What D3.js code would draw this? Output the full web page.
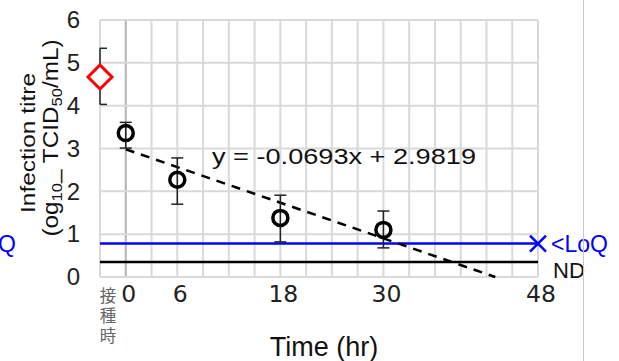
<!DOCTYPE html>
<html>
<head>
<meta charset="utf-8">
<script src="https://cdn.jsdelivr.net/npm/d3@7"></script>
<style>
  body { margin: 0; background: #fff; }
  svg text { font-family: "Liberation Sans", Arial, sans-serif; }
</style>
</head>
<body>
<svg id="chart" width="619" height="361"></svg>
<script>
// x ticks: "接種時" is placed one grid step before 0
var tickTimes = [-3, 0, 6, 18, 30, 48]
var tickLabels = ['接種時', '0', '6', '18', '30', '48']
var yTicks = [0, 1, 2, 3, 4, 5, 6]

// inoculum (red diamond)
var inocTime = [-3]
var inocMean = [4.67]
var inocUpper = [5.34]
var inocLower = [4.03]

// measured titres (open circles)
var sampleTimes = [0, 6, 18, 30]
var titreMean = [3.36, 2.27, 1.38, 1.10]
var titreUpper = [3.61, 2.78, 1.91, 1.54]
var titreLower = [3.01, 1.70, 0.82, 0.68]

// reference lines
var loqValue = 0.78
var ndValue = 0.35

// linear trend
var trendSlope = -0.0693
var trendIntercept = 2.9819

var svg = d3.select('#chart')
var plotLeft = 100, plotRight = 538, plotTop = 20, plotBottom = 277

var x = d3.scaleLinear().domain([-3, 48]).range([plotLeft, plotRight])
var y = d3.scaleLinear().domain([0, 6]).range([plotBottom, plotTop])

// grid
var gridX = d3.range(-3, 49, 3)
svg.append('g')
  .selectAll('line')
  .data(gridX)
  .enter().append('line')
  .attr('x1', function(d) { return x(d) })
  .attr('x2', function(d) { return x(d) })
  .attr('y1', plotTop).attr('y2', plotBottom)
  .attr('stroke', function(d) { return d === 0 ? '#b3b3b3' : '#d9d9d9' })
  .attr('stroke-width', 2)

svg.append('g')
  .selectAll('line')
  .data(yTicks)
  .enter().append('line')
  .attr('x1', plotLeft).attr('x2', plotRight)
  .attr('y1', function(d) { return y(d) })
  .attr('y2', function(d) { return y(d) })
  .attr('stroke', '#d9d9d9')
  .attr('stroke-width', 2)

// y tick labels
svg.append('g')
  .attr('transform', 'translate(' + (plotLeft - 20) + ',0)')
  .call(d3.axisLeft(y).tickValues(yTicks).tickSize(0).tickPadding(0).tickFormat(d3.format('d')))
  .call(function(g) { g.select('.domain').remove() })
  .selectAll('text')
  .attr('font-size', 24)
  .attr('fill', '#222')
  .attr('font-family', '"Liberation Sans", Arial, sans-serif')

// x tick labels
var xl = svg.append('g')
xl.selectAll('text.tick')
  .data(tickTimes.slice(1))
  .enter().append('text')
  .attr('x', function(d) { return x(d) + 3 })
  .attr('y', 302)
  .attr('text-anchor', 'middle')
  .attr('font-size', 23.5)
  .attr('fill', '#222')
  .style('font-family', '"DejaVu Sans", sans-serif')
  .text(function(d, i) { return tickLabels[i + 1] })

// first label stacked vertically, one character per row
var cjk = xl.append('text')
  .attr('y', 302)
  .attr('text-anchor', 'middle')
  .attr('font-size', 16.5)
  .attr('fill', '#666')
  .style('font-family', '"Noto Sans CJK JP", sans-serif')
cjk.selectAll('tspan')
  .data(tickLabels[0].split(''))
  .enter().append('tspan')
  .attr('x', x(tickTimes[0]) + 8)
  .attr('dy', function(d, i) { return i === 0 ? 0 : 20 })
  .text(function(d) { return d })

// reference lines
svg.append('line')
  .attr('x1', plotLeft).attr('x2', plotRight)
  .attr('y1', y(ndValue)).attr('y2', y(ndValue))
  .attr('stroke', '#000').attr('stroke-width', 2.5)

svg.append('line')
  .attr('x1', plotLeft).attr('x2', plotRight)
  .attr('y1', y(loqValue)).attr('y2', y(loqValue))
  .attr('stroke', '#0000ff').attr('stroke-width', 2.5)

var xm = 8
svg.append('path')
  .attr('d', 'M' + (plotRight - xm) + ',' + (y(loqValue) - xm) + 'L' + (plotRight + xm) + ',' + (y(loqValue) + xm) +
    'M' + (plotRight - xm) + ',' + (y(loqValue) + xm) + 'L' + (plotRight + xm) + ',' + (y(loqValue) - xm))
  .attr('stroke', '#0000ff').attr('stroke-width', 2.5).attr('fill', 'none')

svg.append('text')
  .attr('x', 551).attr('y', y(loqValue) + 8)
  .attr('font-size', 23).attr('fill', '#0000ff')
  .text('<LoQ')

// same label, cut off by the left edge as in the source image
svg.append('text')
  .attr('x', 16).attr('y', y(loqValue) + 8)
  .attr('text-anchor', 'end')
  .attr('font-size', 23).attr('fill', '#0000ff')
  .text('<LoQ')

svg.append('text')
  .attr('x', 553).attr('y', y(ndValue) + 16)
  .attr('font-size', 22).attr('fill', '#111')
  .text('ND')

// trend line
var trendEnd = -trendIntercept / trendSlope
svg.append('line')
  .attr('x1', x(0)).attr('y1', y(trendIntercept))
  .attr('x2', x(trendEnd)).attr('y2', y(trendIntercept + trendSlope * trendEnd))
  .attr('stroke', '#000').attr('stroke-width', 2.5)
  .attr('stroke-dasharray', '9,7')

// error bars
function errorBars(times, hi, lo, capLeft, capRight) {
  var g = svg.append('g').attr('stroke', '#222').attr('stroke-width', 1.5)
  times.forEach(function(t, i) {
    g.append('line').attr('x1', x(t)).attr('x2', x(t)).attr('y1', y(hi[i])).attr('y2', y(lo[i]))
    g.append('line').attr('x1', x(t) - capLeft).attr('x2', x(t) + capRight).attr('y1', y(hi[i])).attr('y2', y(hi[i]))
    g.append('line').attr('x1', x(t) - capLeft).attr('x2', x(t) + capRight).attr('y1', y(lo[i])).attr('y2', y(lo[i]))
  })
}
errorBars(inocTime, inocUpper, inocLower, 0, 7)
errorBars(sampleTimes, titreUpper, titreLower, 6, 6)

// diamond
svg.append('g')
  .selectAll('path')
  .data(inocTime)
  .enter().append('path')
  .attr('transform', function(d, i) { return 'translate(' + x(d) + ',' + y(inocMean[i]) + ')' })
  .attr('d', 'M0,-12L12,0L0,12L-12,0Z')
  .attr('fill', '#fff')
  .attr('stroke', '#ff0000')
  .attr('stroke-width', 3)

// circles
svg.append('g')
  .selectAll('circle')
  .data(sampleTimes)
  .enter().append('circle')
  .attr('cx', function(d) { return x(d) })
  .attr('cy', function(d, i) { return y(titreMean[i]) })
  .attr('r', 7.5)
  .attr('fill', 'none')
  .attr('stroke', '#000')
  .attr('stroke-width', 3.5)

// equation
svg.append('text')
  .attr('x', 212).attr('y', 164)
  .attr('font-size', 22)
  .attr('textLength', 264)
  .attr('lengthAdjust', 'spacingAndGlyphs')
  .attr('fill', '#111')
  .text('y = ' + trendSlope + 'x + ' + trendIntercept)

// axis titles
svg.append('text')
  .attr('x', 324).attr('y', 356)
  .attr('text-anchor', 'middle')
  .attr('font-size', 27)
  .attr('fill', '#111')
  .text('Time (hr)')

var yt = svg.append('g').attr('fill', '#111')
yt.append('text')
  .attr('transform', 'translate(35,143) rotate(-90)')
  .attr('text-anchor', 'middle')
  .attr('font-size', 21)
  .attr('textLength', 140)
  .attr('lengthAdjust', 'spacingAndGlyphs')
  .text('Infection titre')

var t2 = yt.append('text')
  .attr('transform', 'translate(58,138) rotate(-90)')
  .attr('text-anchor', 'middle')
  .attr('font-size', 22)
  .attr('textLength', 197)
  .attr('lengthAdjust', 'spacingAndGlyphs')
t2.append('tspan').text('(og')
t2.append('tspan').attr('font-size', 15).attr('dy', 4).text('10')
t2.append('tspan').attr('dy', -4).text('_ TCID')
t2.append('tspan').attr('font-size', 15).attr('dy', 4).text('50')
t2.append('tspan').attr('dy', -4).text('/mL)')

// right edge rule
svg.append('line')
  .attr('x1', 583.5).attr('x2', 583.5).attr('y1', 0).attr('y2', 361)
  .attr('stroke', '#c8c8c8').attr('stroke-width', 1)
</script>
</body>
</html>
